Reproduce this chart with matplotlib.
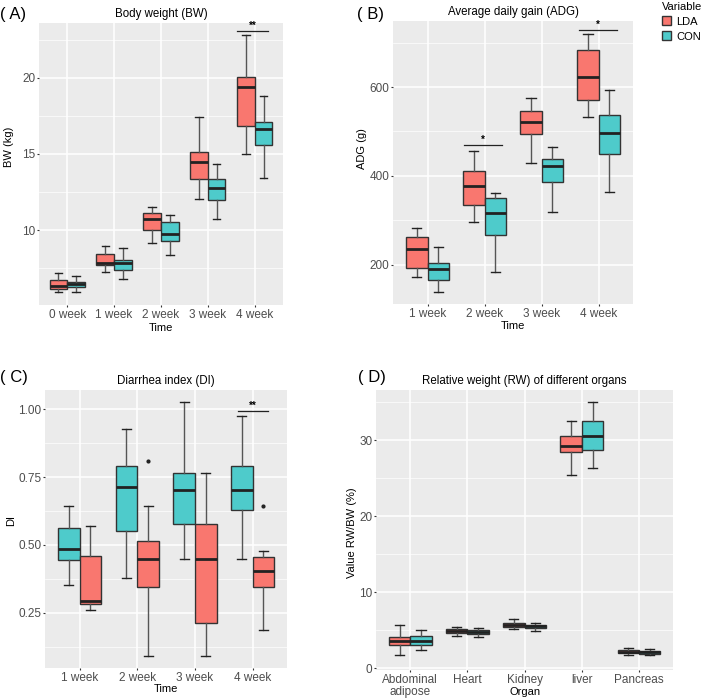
import matplotlib
matplotlib.use('Agg')
import matplotlib.pyplot as plt
from matplotlib.patches import Patch
from matplotlib.ticker import MultipleLocator, FormatStrFormatter

plt.rcParams['font.family'] = ['Liberation Sans', 'DejaVu Sans']

# box stats per category: [low whisker, q1, median, q3, high whisker]
weeks_a = ['0 week', '1 week', '2 week', '3 week', '4 week']
bw_lda = [[5.91, 6.10, 6.32, 6.70, 7.16], [7.24, 7.70, 7.83, 8.42, 8.95],
          [9.12, 10.0, 10.74, 11.09, 11.53], [12.06, 13.33, 14.49, 15.14, 17.40],
          [14.99, 16.81, 19.41, 20.04, 22.80]]
bw_con = [[5.91, 6.24, 6.45, 6.61, 6.98], [6.81, 7.40, 7.81, 8.05, 8.80],
          [8.36, 9.30, 9.74, 10.52, 10.98], [10.70, 11.95, 12.78, 13.33, 14.31],
          [13.44, 15.56, 16.65, 17.07, 18.82]]

weeks = ['1 week', '2 week', '3 week', '4 week']
adg_lda = [[172, 192, 235, 262, 282], [295, 335, 376, 411, 457],
           [429, 494, 521, 547, 575], [533, 572, 622, 683, 719]]
adg_con = [[138, 166, 191, 204, 239], [183, 267, 316, 350, 361],
           [318, 386, 421, 438, 465], [364, 449, 496, 538, 593]]

di_con = [[0.352, 0.443, 0.485, 0.563, 0.643], [0.378, 0.551, 0.715, 0.790, 0.927],
          [0.447, 0.577, 0.701, 0.765, 1.026], [0.447, 0.629, 0.701, 0.790, 0.975]]
di_lda = [[0.260, 0.283, 0.294, 0.460, 0.568], [0.091, 0.343, 0.449, 0.516, 0.643],
          [0.091, 0.211, 0.449, 0.576, 0.765], [0.186, 0.343, 0.404, 0.457, 0.477]]
di_lda_out = [[], [0.808], [], [0.643]]

organs = ['Abdominal\nadipose', 'Heart', 'Kidney', 'liver', 'Pancreas']
rw_lda = [[1.71, 3.02, 3.59, 4.07, 5.69], [4.29, 4.64, 4.90, 5.12, 5.43],
          [5.17, 5.48, 5.69, 5.96, 6.44], [25.45, 28.5, 29.3, 30.6, 32.5],
          [1.75, 1.97, 2.15, 2.37, 2.67]]
rw_con = [[2.37, 3.11, 3.59, 4.20, 5.08], [4.16, 4.56, 4.77, 4.99, 5.26],
          [4.90, 5.26, 5.52, 5.69, 5.91], [26.3, 28.7, 30.53, 32.5, 35.04],
          [1.71, 1.93, 2.10, 2.32, 2.58]]

RED = '#F9776F'
CYAN = '#4ECBCB'
EDGE = '#333333'


def stats(rows, outs=None):
    res = []
    for i, r in enumerate(rows):
        res.append(dict(whislo=r[0], q1=r[1], med=r[2], q3=r[3], whishi=r[4],
                        fliers=(outs[i] if outs else [])))
    return res


def boxes(ax, rows, color, offset, outs=None):
    pos = [i + offset for i in range(len(rows))]
    ax.bxp(stats(rows, outs), positions=pos, widths=0.375, patch_artist=True,
           capwidths=0.16, manage_ticks=False,
           boxprops=dict(facecolor=color, edgecolor=EDGE, linewidth=1.0),
           medianprops=dict(color='#222222', linewidth=2.0),
           whiskerprops=dict(color='#555555', linewidth=1.0),
           capprops=dict(color='#222222', linewidth=1.0),
           flierprops=dict(marker='o', markersize=2, markerfacecolor='#222222',
                           markeredgecolor='#222222'))


def style(ax, labels, xlim, ylim, major, minor, title):
    ax.set_facecolor('#EBEBEB')
    for s in ax.spines.values():
        s.set_visible(False)
    ax.set_axisbelow(True)
    ax.set_xticks(range(len(labels)))
    ax.set_xticklabels(labels, linespacing=1.0)
    ax.set_xlim(*xlim)
    ax.set_ylim(*ylim)
    ax.yaxis.set_major_locator(MultipleLocator(major))
    ax.yaxis.set_minor_locator(MultipleLocator(minor))
    ax.grid(which='major', color='white', linewidth=1.1)
    ax.grid(which='minor', axis='y', color='white', linewidth=0.5)
    ax.tick_params(which='major', length=1.6, width=0.8, color='#333333',
                   labelcolor='#4D4D4D', labelsize=8.5, pad=1.0)
    ax.tick_params(which='minor', length=0)
    ax.set_title(title, fontsize=8.3, pad=4)


def sig(ax, x0, x1, y, text):
    ax.plot([x0, x1], [y, y], color='#222222', linewidth=0.9)
    ax.text((x0 + x1) / 2, y, text, ha='center', va='bottom', fontsize=7,
            fontweight='bold')


fig = plt.figure(figsize=(7.09, 7.0), dpi=100)

# (A)
ax = fig.add_axes([0.0550, 0.5643, 0.3441, 0.4029])
boxes(ax, bw_lda, RED, -0.1875)
boxes(ax, bw_con, CYAN, 0.1875)
style(ax, weeks_a, (-0.6, 4.6), (5.08, 23.6), 5, 2.5, 'Body weight (BW)')
sig(ax, 3.62, 4.28, 23.09, '**')
ax.set_xlabel('Time', fontsize=8, va='center')
ax.xaxis.set_label_coords(0.5, -0.082)
ax.set_ylabel('BW (kg)', fontsize=8, va='center')
ax.yaxis.set_label_coords(-0.123, 0.56)

# (B)
ax = fig.add_axes([0.5547, 0.5657, 0.3381, 0.4043])
boxes(ax, adg_lda, RED, -0.1875)
boxes(ax, adg_con, CYAN, 0.1875)
style(ax, weeks, (-0.6, 3.6), (111, 749), 200, 100, 'Average daily gain (ADG)')
sig(ax, 0.64, 1.31, 470, '*')
sig(ax, 2.66, 3.32, 728, '*')
ax.set_xlabel('Time', fontsize=8, va='center')
ax.xaxis.set_label_coords(0.5, -0.077)
ax.set_ylabel('ADG (g)', fontsize=8, va='center')
ax.yaxis.set_label_coords(-0.132, 0.55)

# (C)
ax = fig.add_axes([0.0635, 0.0453, 0.3417, 0.3976])
boxes(ax, di_con, CYAN, -0.1875)
boxes(ax, di_lda, RED, 0.1875, di_lda_out)
style(ax, weeks, (-0.6, 3.6), (0.045, 1.071), 0.25, 0.125, 'Diarrhea index (DI)')
ax.yaxis.set_major_formatter(FormatStrFormatter('%.2f'))
sig(ax, 2.75, 3.27, 0.995, '**')
ax.set_xlabel('Time', fontsize=8, va='center')
ax.xaxis.set_label_coords(0.5, -0.074)
ax.set_ylabel('DI', fontsize=8, va='center')
ax.yaxis.set_label_coords(-0.14, 0.53)

# (D)
ax = fig.add_axes([0.5303, 0.0429, 0.4193, 0.4])
boxes(ax, rw_lda, RED, -0.1875)
boxes(ax, rw_con, CYAN, 0.1875)
style(ax, organs, (-0.6, 4.6), (-0.2, 36.6), 10, 5,
      'Relative weight (RW) of different organs')
ax.set_xlabel('Organ', fontsize=8, va='center')
ax.xaxis.set_label_coords(0.5, -0.079)
ax.set_ylabel('Value RW/BW (%)', fontsize=8, va='center')
ax.yaxis.set_label_coords(-0.082, 0.49)

for lab, x, y in [('( A)', 0.0, 0.979), ('( B)', 0.503, 0.979),
                  ('( C)', 0.0, 0.461), ('( D)', 0.505, 0.461)]:
    fig.text(x, y, lab, fontsize=12, va='center', ha='left')

handles = [Patch(facecolor=RED, edgecolor=EDGE, label='LDA'),
           Patch(facecolor=CYAN, edgecolor=EDGE, label='CON')]
leg = fig.legend(handles=handles, title='Variable', loc='upper left',
                 bbox_to_anchor=(0.932, 0.999), frameon=False, fontsize=8,
                 title_fontsize=8, handlelength=0.8, handleheight=0.9,
                 handletextpad=0.5, labelspacing=0.4, borderaxespad=0,
                 borderpad=0.1)
leg._legend_box.align = 'left'

fig.savefig('out.png', dpi=100)
